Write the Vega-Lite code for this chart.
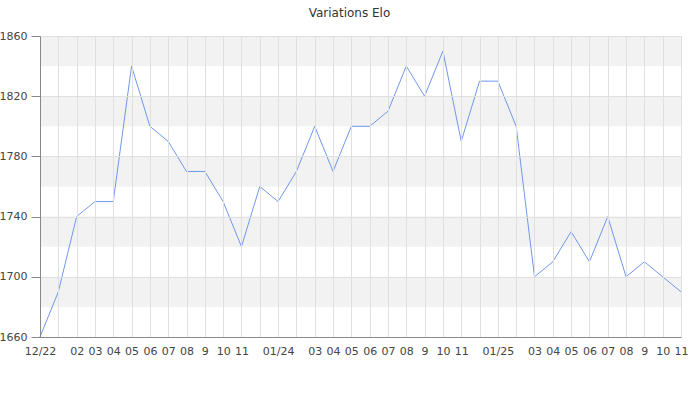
{
  "$schema": "https://vega.github.io/schema/vega-lite/v6.json",
  "autosize": {"type": "none"},
  "width": 641,
  "height": 301,
  "padding": {"left": 40, "top": 36, "right": 19, "bottom": 63},
  "title": {"text": "Variations Elo", "font": "DejaVu Sans", "fontSize": 12, "fontWeight": "normal", "color": "#333333", "offset": 10, "dx": -11},
  "config": {
    "font": "DejaVu Sans",
    "view": {"stroke": "#dddddd"},
    "axis": {"labelFont": "DejaVu Sans", "labelFontSize": 11, "labelColor": "#444444", "domainColor": "#888888", "tickColor": "#888888", "gridColor": "#e0e0e0", "title": null}
  },
  "datasets": {
    "elo": [
      {"month": "2022-12", "elo": 1660},
      {"month": "2023-01", "elo": 1690},
      {"month": "2023-02", "elo": 1740},
      {"month": "2023-03", "elo": 1750},
      {"month": "2023-04", "elo": 1750},
      {"month": "2023-05", "elo": 1840},
      {"month": "2023-06", "elo": 1800},
      {"month": "2023-07", "elo": 1790},
      {"month": "2023-08", "elo": 1770},
      {"month": "2023-09", "elo": 1770},
      {"month": "2023-10", "elo": 1750},
      {"month": "2023-11", "elo": 1720},
      {"month": "2023-12", "elo": 1760},
      {"month": "2024-01", "elo": 1750},
      {"month": "2024-02", "elo": 1770},
      {"month": "2024-03", "elo": 1800},
      {"month": "2024-04", "elo": 1770},
      {"month": "2024-05", "elo": 1800},
      {"month": "2024-06", "elo": 1800},
      {"month": "2024-07", "elo": 1810},
      {"month": "2024-08", "elo": 1840},
      {"month": "2024-09", "elo": 1820},
      {"month": "2024-10", "elo": 1850},
      {"month": "2024-11", "elo": 1790},
      {"month": "2024-12", "elo": 1830},
      {"month": "2025-01", "elo": 1830},
      {"month": "2025-02", "elo": 1800},
      {"month": "2025-03", "elo": 1700},
      {"month": "2025-04", "elo": 1710},
      {"month": "2025-05", "elo": 1730},
      {"month": "2025-06", "elo": 1710},
      {"month": "2025-07", "elo": 1740},
      {"month": "2025-08", "elo": 1700},
      {"month": "2025-09", "elo": 1710},
      {"month": "2025-10", "elo": 1700},
      {"month": "2025-11", "elo": 1690}
    ],
    "bands": [
      {"lo": 1680, "hi": 1700},
      {"lo": 1720, "hi": 1740},
      {"lo": 1760, "hi": 1780},
      {"lo": 1800, "hi": 1820},
      {"lo": 1840, "hi": 1860}
    ]
  },
  "layer": [
    {
      "data": {"name": "bands"},
      "mark": {"type": "rect", "color": "#f2f2f2"},
      "encoding": {
        "x": {"value": 0},
        "x2": {"value": "width"},
        "y": {"field": "lo", "type": "quantitative", "scale": {"domain": [1660, 1860], "nice": false, "zero": false}},
        "y2": {"field": "hi"}
      }
    },
    {
      "data": {"name": "elo"},
      "mark": {"type": "line", "color": "#6f98ec", "strokeWidth": 1},
      "encoding": {
        "x": {
          "field": "month", "type": "ordinal",
          "scale": {"type": "point", "padding": 0},
          "axis": {
            "grid": true, "zindex": 1,
            "labelAngle": 0, "ticks": false, "labelPadding": 8, "labelOverlap": false,
            "labelExpr": "indexof(['2023-01','2023-12','2024-02','2024-12','2025-02'], datum.value) >= 0 ? '' : (substring(datum.value,5,7) == '01' || datum.value == '2022-12') ? substring(datum.value,5,7) + '/' + substring(datum.value,2,4) : substring(datum.value,5,7) == '09' ? '9' : substring(datum.value,5,7)"
          }
        },
        "y": {
          "field": "elo", "type": "quantitative",
          "scale": {"domain": [1660, 1860], "nice": false, "zero": false},
          "axis": {
            "zindex": 1,
            "values": [1660,1670,1680,1690,1700,1710,1720,1730,1740,1750,1760,1770,1780,1790,1800,1810,1820,1830,1840,1850,1860],
            "format": "d",
            "labelExpr": "datum.value % 20 == 0 ? datum.label : ''",
            "labelPadding": 4,
            "ticks": true,
            "tickSize": 9,
            "encode": {"ticks": {"update": {"x2": {"signal": "datum.value % 20 == 0 ? -9 : -4"}}}},
            "gridOpacity": {"condition": {"test": "datum.value % 20 == 0", "value": 1}, "value": 0}
          }
        }
      }
    }
  ]
}
